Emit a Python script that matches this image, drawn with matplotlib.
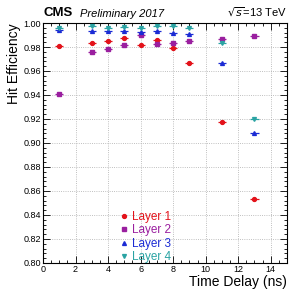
import numpy as np
import matplotlib.pyplot as plt
from matplotlib.lines import Line2D
from matplotlib.ticker import MultipleLocator

plt.rcParams['font.family'] = ['Liberation Sans', 'DejaVu Sans']

# Time delay points (ns)
delay = [1, 3, 4, 5, 6, 7, 8, 9, 11, 13]

# Hit efficiency per layer
layer1 = [0.9805, 0.9832, 0.9854, 0.9876, 0.9819, 0.9859, 0.9795, 0.9668, 0.9178, 0.8536]
layer2 = [0.9408, 0.9762, 0.9786, 0.9819, 0.9897, 0.9822, 0.9836, 0.9849, 0.9870, 0.9889]
layer3 = [0.9940, 0.9935, 0.9932, 0.9932, 0.9922, 0.9930, 0.9914, 0.9905, 0.9670, 0.9086]
layer4 = [0.9957, 0.9973, 0.9959, 0.9970, 0.9957, 0.9973, 0.9973, 0.9957, 0.9835, 0.9200]

labels = ['Layer 1', 'Layer 2', 'Layer 3', 'Layer 4']
colors = ['#e3121a', '#9a1f9f', '#1b2bd4', '#2aa3a3']
markers = ['o', 's', '^', 'v']

fig = plt.figure(figsize=(2.97, 2.93), dpi=100)
ax = fig.add_axes([0.1448, 0.1024, 0.8215, 0.8191])

handles = []
for vals, lab, col, mk in zip([layer1, layer2, layer3, layer4], labels, colors, markers):
    ax.errorbar(delay, vals, xerr=0.25, yerr=0.0008, fmt=mk, color=col,
                ms=2.8, elinewidth=0.9, capsize=0, zorder=3)
    handles.append(Line2D([], [], marker=mk, color=col, ls='none', ms=2.8, label=lab))

ax.set_xlim(0, 15)
ax.set_ylim(0.80, 1.00)
ax.xaxis.set_major_locator(MultipleLocator(2))
ax.xaxis.set_minor_locator(MultipleLocator(0.5))
ax.yaxis.set_major_locator(MultipleLocator(0.02))
ax.yaxis.set_minor_locator(MultipleLocator(0.004))
ax.set_yticklabels([f'{v:.2f}' for v in ax.get_yticks()])
ax.tick_params(which='both', direction='in', top=True, right=True, labelsize=6.5, pad=1.5)
ax.tick_params(which='major', length=5, width=0.6)
ax.tick_params(which='minor', length=2.5, width=0.6)
ax.grid(True, which='major', ls=':', lw=0.6, color='#aaaaaa')
for s in ax.spines.values():
    s.set_linewidth(0.8)

ax.set_xlabel('Time Delay (ns)', fontsize=10, ha='right', x=1.0, labelpad=1)
ax.set_ylabel('Hit Efficiency', fontsize=10, ha='right', y=1.0, labelpad=2)

leg = ax.legend(handles=handles, loc='lower left', bbox_to_anchor=(0.3, -0.02),
                frameon=False, fontsize=8.5, handlelength=0.6, handletextpad=0.3,
                labelspacing=0.12, borderaxespad=0)
for txt, col in zip(leg.get_texts(), colors):
    txt.set_color(col)

fig.text(0.1448, 0.935, 'CMS', fontsize=9.5, fontweight='bold', va='bottom')
fig.text(0.27, 0.935, 'Preliminary 2017', fontsize=8, style='italic', va='bottom')
fig.text(0.9663, 0.935, r'$\sqrt{s}$=13 TeV', fontsize=8, ha='right', va='bottom')

fig.savefig('out.png', dpi=100)
